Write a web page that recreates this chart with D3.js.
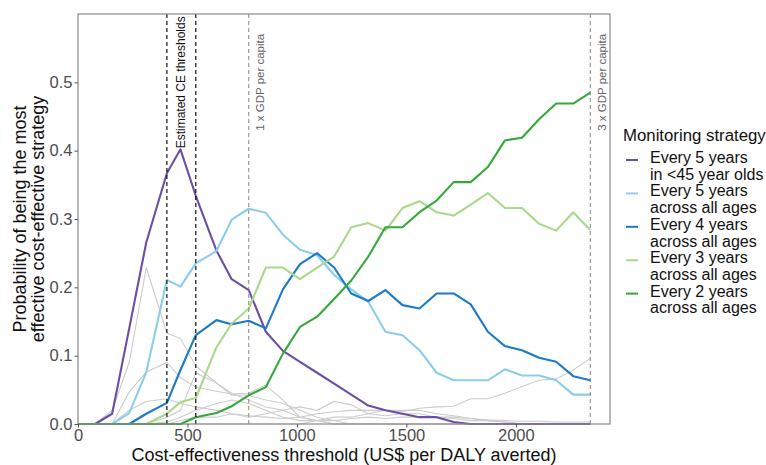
<!DOCTYPE html>
<html><head><meta charset="utf-8">
<script src="https://cdn.jsdelivr.net/npm/d3@7"></script>
<style>body{margin:0;background:#fff;} svg{display:block;font-family:"Liberation Sans",Arial,sans-serif;}</style>
</head><body><svg id="c" width="766" height="465"></svg>
<script>
// ---- data ----
const thresholds = [0, 78, 156, 234, 312, 406, 468, 538, 632, 702, 780, 858, 936, 1014, 1092, 1170, 1248, 1326, 1404, 1482, 1560, 1638, 1716, 1794, 1872, 1950, 2028, 2106, 2184, 2262, 2340];

const strategyLabels = [
  ["Every 5 years", "in <45 year olds"],
  ["Every 5 years", "across all ages"],
  ["Every 4 years", "across all ages"],
  ["Every 3 years", "across all ages"],
  ["Every 2 years", "across all ages"]
];
const strategyColors = ["#6b4ea6", "#8ccdec", "#1b7bc4", "#a8d98a", "#35a83a"];

const every5Under45 = [0, 0, 0.015, 0.14, 0.266, 0.367, 0.402, 0.334, 0.254, 0.212, 0.196, 0.135, 0.107, 0.091, 0.075, 0.059, 0.043, 0.027, 0.020, 0.015, 0.010, 0.010, 0.003, 0, 0, 0, 0, 0, 0, 0, 0];
const every5All = [0, 0, 0, 0.016, 0.076, 0.211, 0.201, 0.235, 0.253, 0.299, 0.315, 0.309, 0.277, 0.255, 0.247, 0.218, 0.197, 0.179, 0.135, 0.130, 0.108, 0.075, 0.064, 0.064, 0.064, 0.080, 0.071, 0.071, 0.064, 0.043, 0.043];
const every4All = [0, 0, 0, 0, 0.015, 0.031, 0.079, 0.130, 0.152, 0.146, 0.151, 0.140, 0.197, 0.234, 0.250, 0.229, 0.191, 0.180, 0.196, 0.174, 0.169, 0.191, 0.191, 0.175, 0.135, 0.114, 0.108, 0.097, 0.091, 0.070, 0.064];
const every3All = [0, 0, 0, 0, 0, 0.015, 0.032, 0.038, 0.112, 0.147, 0.169, 0.229, 0.229, 0.212, 0.229, 0.245, 0.288, 0.294, 0.283, 0.316, 0.326, 0.310, 0.305, 0.321, 0.338, 0.316, 0.316, 0.293, 0.283, 0.310, 0.284];
const every2All = [0, 0, 0, 0, 0, 0, 0, 0.010, 0.016, 0.026, 0.042, 0.054, 0.103, 0.142, 0.157, 0.183, 0.210, 0.245, 0.288, 0.288, 0.310, 0.327, 0.354, 0.354, 0.376, 0.415, 0.419, 0.446, 0.469, 0.469, 0.485];

// other (unlabelled) strategies, drawn in grey
const otherA = [0, 0, 0.02, 0.09, 0.229, 0.133, 0.125, 0.085, 0.06, 0.045, 0.035, 0.025, 0.02, 0.01, 0.005, 0, 0, 0, 0, 0, 0, 0, 0, 0, 0, 0, 0, 0, 0, 0, 0];
const otherB = [0, 0, 0, 0.047, 0.076, 0.09, 0.068, 0.054, 0.048, 0.044, 0.045, 0.057, 0.035, 0.01, 0.005, 0, 0, 0, 0, 0, 0, 0, 0, 0, 0, 0, 0, 0, 0, 0, 0];
const otherC = [0, 0, 0, 0.02, 0.033, 0.037, 0.03, 0.025, 0.02, 0.015, 0.012, 0.01, 0.008, 0.01, 0.015, 0.018, 0.02, 0.02, 0.02, 0.02, 0.02, 0.015, 0.012, 0.008, 0.005, 0.003, 0, 0, 0, 0, 0];
const otherD = [0, 0, 0, 0, 0, 0.01, 0.02, 0.075, 0.06, 0.042, 0.042, 0.035, 0.03, 0.02, 0.01, 0.005, 0, 0, 0, 0, 0, 0, 0, 0, 0, 0, 0, 0, 0, 0, 0];
const otherE = [0, 0, 0, 0, 0, 0, 0, 0, 0, 0, 0, 0, 0, 0, 0.005, 0.01, 0.01, 0.015, 0.02, 0.018, 0.023, 0.025, 0.026, 0.037, 0.037, 0.045, 0.055, 0.064, 0.066, 0.079, 0.096];
const otherF = [0, 0, 0, 0, 0, 0, 0.005, 0.01, 0.01, 0.015, 0.01, 0.015, 0.02, 0.025, 0.02, 0.033, 0.028, 0.015, 0.012, 0.015, 0.015, 0.01, 0.008, 0.005, 0.005, 0.003, 0, 0, 0, 0, 0];
const otherG = [0, 0, 0, 0, 0, 0.003, 0.01, 0.02, 0.03, 0.035, 0.03, 0.02, 0.01, 0.005, 0.005, 0.005, 0.008, 0.01, 0.008, 0.01, 0.01, 0.01, 0.01, 0.008, 0.006, 0.005, 0.004, 0.004, 0.003, 0.003, 0.003];

const xTicks = [0, 500, 1000, 1500, 2000];
const yTicks = [0, 0.1, 0.2, 0.3, 0.4, 0.5];
const ceThresholds = [406, 538];
const gdpLines = [780, 2340];
const gdpLabels = ["1 x GDP per capita", "3 x GDP per capita"];

// ---- drawing ----
const svg = d3.select("#c");
const x = d3.scaleLinear().domain([0, 2430]).range([78, 610]);
const y = d3.scaleLinear().domain([0, 0.6]).range([424, 14]);

const line = d3.line().x((d, i) => x(thresholds[i])).y(d => y(d));

const greys = [otherA, otherB, otherC, otherD, otherE, otherF, otherG];
svg.append("g").selectAll("path").data(greys).join("path")
  .attr("d", line).attr("fill", "none").attr("stroke", "#cccccc").attr("stroke-width", 1.1);

const main = [every5Under45, every5All, every4All, every3All, every2All];
svg.append("g").selectAll("path").data(main).join("path")
  .attr("d", line).attr("fill", "none")
  .attr("stroke", (d, i) => strategyColors[i]).attr("stroke-width", 2.1)
  .attr("stroke-linejoin", "round");

// vertical reference lines
svg.append("g").selectAll("line").data(ceThresholds).join("line")
  .attr("x1", d => x(d)).attr("x2", d => x(d)).attr("y1", 14).attr("y2", 424)
  .attr("stroke", "#111").attr("stroke-width", 1.2).attr("stroke-dasharray", "4,3");
svg.append("g").selectAll("line").data(gdpLines).join("line")
  .attr("x1", d => x(d)).attr("x2", d => x(d)).attr("y1", 14).attr("y2", 424)
  .attr("stroke", "#777").attr("stroke-width", 0.9).attr("stroke-dasharray", "4,3");

// annotations
svg.append("text")
  .attr("transform", `translate(${(x(ceThresholds[0]) + x(ceThresholds[1])) / 2},${y(0.5)}) rotate(-90)`)
  .attr("text-anchor", "middle").attr("dominant-baseline", "central")
  .attr("font-size", 12).attr("fill", "#111").text("Estimated CE thresholds");
svg.append("g").selectAll("text").data(gdpLines).join("text")
  .attr("transform", d => `translate(${x(d) + 11.5},${y(0.5)}) rotate(-90)`)
  .attr("text-anchor", "middle").attr("dominant-baseline", "central")
  .attr("font-size", 11.5).attr("fill", "#666").text((d, i) => gdpLabels[i]);

// panel border
svg.append("rect").attr("x", 78).attr("y", 14).attr("width", 532).attr("height", 410)
  .attr("fill", "none").attr("stroke", "#8a8a8a").attr("stroke-width", 1.2);

// axes
const xa = svg.append("g").attr("transform", "translate(0,424)")
  .call(d3.axisBottom(x).tickValues(xTicks).tickFormat(d3.format("d")).tickSize(3.5).tickPadding(2));
const ya = svg.append("g").attr("transform", "translate(78,0)")
  .call(d3.axisLeft(y).tickValues(yTicks).tickFormat(d3.format(".1f")).tickSize(3.5).tickPadding(2));
[xa, ya].forEach(g => {
  g.select(".domain").remove();
  g.selectAll(".tick line").attr("stroke", "#555");
  g.selectAll(".tick text").attr("fill", "#4d4d4d").attr("font-size", 16.5)
    .attr("font-family", '"Liberation Sans",Arial,sans-serif');
});

// axis titles
svg.append("text").attr("x", 344).attr("y", 461).attr("text-anchor", "middle")
  .attr("font-size", 18).attr("fill", "#111").text("Cost-effectiveness threshold (US$ per DALY averted)");
const yt = svg.append("text").attr("transform", "translate(0,219) rotate(-90)")
  .attr("text-anchor", "middle").attr("font-size", 18).attr("fill", "#111");
yt.append("tspan").attr("x", 0).attr("y", 26).text("Probability of being the most");
yt.append("tspan").attr("x", 0).attr("y", 44).text("effective cost-effective strategy");

// legend
const lg = svg.append("g");
lg.append("text").attr("x", 623).attr("y", 141).attr("font-size", 16.8).attr("fill", "#111").text("Monitoring strategy");
strategyLabels.forEach((lab, i) => {
  const cy = 157.5 + 33.4 * i;
  lg.append("line").attr("x1", 626).attr("x2", 638).attr("y1", cy + 2.5).attr("y2", cy + 2.5)
    .attr("stroke", strategyColors[i]).attr("stroke-width", 2);
  lab.forEach((t, j) => {
    lg.append("text").attr("x", 650).attr("y", cy + j * 16.8).attr("dominant-baseline", "central")
      .attr("font-size", 16).attr("fill", "#111").text(t);
  });
});
</script></body></html>
